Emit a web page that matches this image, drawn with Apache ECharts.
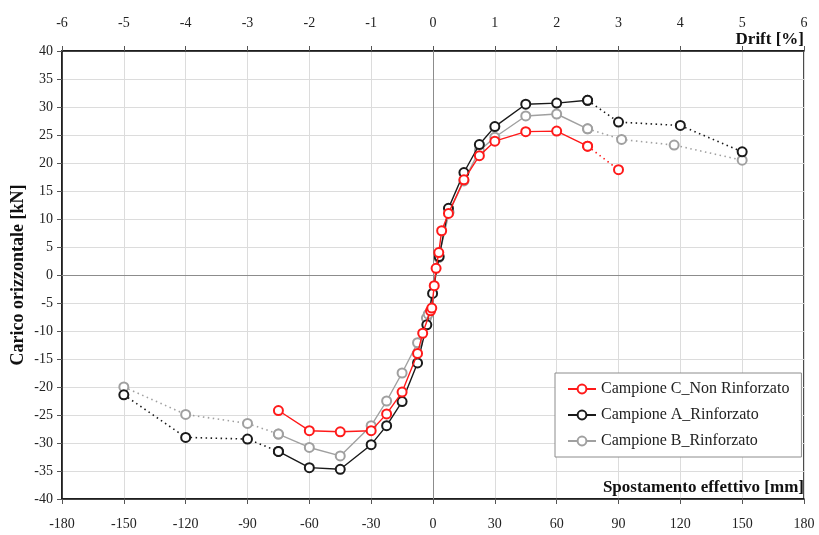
<!DOCTYPE html>
<html>
<head>
<meta charset="utf-8">
<script src="https://cdn.jsdelivr.net/npm/echarts@6/dist/echarts.min.js"></script>
<style>html,body{margin:0;padding:0;background:#fff}#c{width:819px;height:535px}</style>
</head>
<body>
<div id="c"></div>
<script>
// ---- data ----
const seriesNames = ['Campione C_Non Rinforzato', 'Campione A_Rinforzato', 'Campione B_Rinforzato'];
const xTicksMm = [-180, -150, -120, -90, -60, -30, 0, 30, 60, 90, 120, 150, 180];
const xTicksDrift = [-6, -5, -4, -3, -2, -1, 0, 1, 2, 3, 4, 5, 6];
const yTicks = [-40, -35, -30, -25, -20, -15, -10, -5, 0, 5, 10, 15, 20, 25, 30, 35, 40];

const cX = [-75, -60, -45, -30, -22.5, -15, -7.5, -5, -1.2, -0.6, 0.6, 1.5, 2.8, 4.2, 7.5, 15, 22.5, 30, 45, 60, 75, 90];
const cY = [-24.2, -27.8, -28.0, -27.8, -24.8, -20.9, -14.0, -10.4, -6.4, -5.9, -1.9, 1.2, 4.0, 7.9, 11.0, 17.0, 21.3, 23.9, 25.6, 25.7, 23.0, 18.8];

const aX = [-150, -120, -90, -75, -60, -45, -30, -22.5, -15, -7.5, -3, -0.2, 3, 7.5, 15, 22.5, 30, 45, 60, 75, 90, 120, 150];
const aY = [-21.4, -29.0, -29.3, -31.5, -34.4, -34.7, -30.3, -26.9, -22.6, -15.7, -8.9, -3.3, 3.3, 11.9, 18.3, 23.3, 26.5, 30.5, 30.7, 31.2, 27.3, 26.7, 22.0];

const bX = [-150, -120, -90, -75, -60, -45, -30, -22.5, -15, -7.5, -3.2, -2.3, 2.8, 7.8, 15, 22.5, 30, 45, 60, 75, 91.5, 117, 150];
const bY = [-20.0, -24.9, -26.5, -28.4, -30.8, -32.3, -26.9, -22.5, -17.5, -12.1, -7.7, -7.0, 3.1, 11.2, 16.8, 22.2, 24.6, 28.4, 28.75, 26.1, 24.2, 23.2, 20.5];

const colors = ['#ff1a1a', '#1a1a1a', '#a0a0a0'];
const serif = '"Liberation Serif", "DejaVu Serif", serif';

function zip(xs, ys) { return xs.map((x, i) => [x, ys[i]]); }

const all = [zip(cX, cY), zip(aX, aY), zip(bX, bY)];
const drawOrder = [2, 1, 0];
const series = [];
drawOrder.forEach(k => {
  const pts = all[k];
  const solid = pts.filter(p => Math.abs(p[0]) <= 75);
  const left = pts.filter(p => p[0] <= -75);
  const right = pts.filter(p => p[0] >= 75);
  const common = {
    type: 'line',
    symbol: 'emptyCircle',
    symbolSize: 9,
    color: colors[k],
    itemStyle: { color: colors[k], borderWidth: 1.4 },
    emphasis: { disabled: true },
    animation: false,
    z: 3 + (2 - k)
  };
  [left, right].forEach(seg => {
    if (seg.length > 1) {
      series.push(Object.assign({}, common, {
        name: seriesNames[k] + ' (ext)',
        data: seg,
        lineStyle: { color: colors[k], width: 1.6, type: [1.5, 3.5] }
      }));
    }
  });
  series.push(Object.assign({}, common, {
    name: seriesNames[k],
    data: solid,
    lineStyle: { color: colors[k], width: 1.4, type: 'solid' }
  }));
});

// zero lines
series.push({
  type: 'line', data: [], silent: true, animation: false,
  markLine: {
    silent: true, symbol: 'none', animation: false,
    label: { show: false },
    lineStyle: { color: '#8c8c8c', width: 1, type: 'solid' },
    data: [{ xAxis: 0 }, { yAxis: 0 }]
  }
});

const chart = echarts.init(document.getElementById('c'), null, { renderer: 'canvas' });
chart.setOption({
  backgroundColor: '#ffffff',
  animation: false,
  grid: { left: 62, right: 15, top: 51, bottom: 36, show: true, borderColor: '#111', borderWidth: 1.5, containLabel: false, outerBoundsMode: 'none' },
  legend: {
    data: seriesNames,
    orient: 'vertical',
    left: 555, top: 373,
    width: 247,
    backgroundColor: '#fff',
    borderColor: '#8c8c8c', borderWidth: 1,
    padding: [8, 12, 8, 12],
    itemGap: 10,
    itemWidth: 28, itemHeight: 11,
    textStyle: { fontFamily: serif, fontSize: 16, color: '#222', padding: [0, 0, 0, 0] }
  },
  xAxis: [
    {
      type: 'value', min: -180, max: 180, interval: 30, position: 'bottom',
      name: 'Spostamento effettivo [mm]', nameLocation: 'end', nameGap: 0,
      nameTextStyle: { fontFamily: serif, fontSize: 17, fontWeight: 'bold', color: '#111', align: 'right', verticalAlign: 'bottom', padding: [0, 0, 3, 0] },
      axisLine: { onZero: false, lineStyle: { color: '#111', width: 1.5 } },
      axisTick: { show: true, inside: false, length: 5, lineStyle: { color: '#555' } },
      axisLabel: { margin: 18, fontFamily: serif, fontSize: 14, color: '#222', customValues: xTicksMm },
      splitLine: { show: true, lineStyle: { color: '#dcdcdc', width: 1 } }
    },
    {
      type: 'value', min: -6, max: 6, interval: 1, position: 'top',
      name: 'Drift [%]', nameLocation: 'end', nameGap: 0,
      nameTextStyle: { fontFamily: serif, fontSize: 17, fontWeight: 'bold', color: '#111', align: 'right', verticalAlign: 'bottom', padding: [0, 0, 3, 0] },
      axisLine: { onZero: false, lineStyle: { color: '#111', width: 1.5 } },
      axisTick: { show: true, inside: false, length: 5, lineStyle: { color: '#555' } },
      axisLabel: { margin: 21, fontFamily: serif, fontSize: 14, color: '#222', customValues: xTicksDrift },
      splitLine: { show: false }
    }
  ],
  yAxis: {
    type: 'value', min: -40, max: 40, interval: 5,
    name: 'Carico orizzontale [kN]', nameLocation: 'middle', nameGap: 35, nameRotate: 90,
    nameMoveOverlap: false,
    nameTextStyle: { fontFamily: serif, fontSize: 18, fontWeight: 'bold', color: '#111' },
    axisLine: { show: true, onZero: false, lineStyle: { color: '#111', width: 1.5 } },
    axisTick: { show: true, inside: false, length: 5, lineStyle: { color: '#555' } },
    axisLabel: { margin: 9, fontFamily: serif, fontSize: 14, color: '#222', customValues: yTicks },
    splitLine: { show: true, lineStyle: { color: '#dcdcdc', width: 1 } }
  },
  series: series
});
</script>
</body>
</html>
